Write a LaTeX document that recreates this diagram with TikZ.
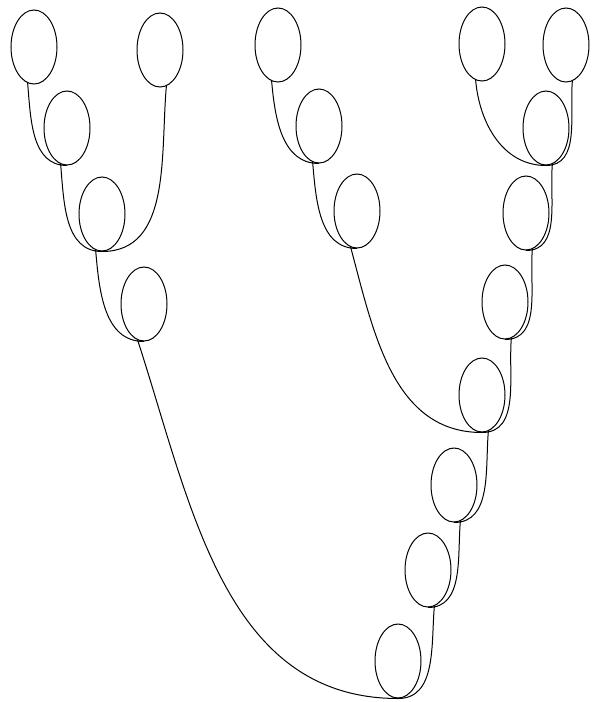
\documentclass[tikz,border=0pt]{standalone}
\usepackage{tikz}
\usetikzlibrary{shapes.geometric}

\begin{document}
\begin{tikzpicture}[x=1pt, y=-1pt, line width=1pt,
    blob/.style={draw, ellipse, inner sep=0pt, minimum width=46pt, minimum height=74pt},
    toleft/.style={out=-85, in=180},
    toright/.style={out=-95, in=0}]
        \useasboundingbox (0,0) rectangle (592,702);
        % left branch
        \node[blob] (a1) at (34,47) {};
        \node[blob] (a2) at (160,50) {};
        \node[blob] (a3) at (67,128) {};
        \node[blob] (a4) at (102,214) {};
        \node[blob] (a5) at (144,304) {};
        % middle branch
        \node[blob] (m1) at (278,45) {};
        \node[blob] (m2) at (319,126) {};
        \node[blob] (m3) at (357,211) {};
        % right branch
        \node[blob] (r1) at (482,44) {};
        \node[blob] (r2) at (566,45) {};
        \node[blob] (r3) at (546,128) {};
        \node[blob] (r4) at (526,213) {};
        \node[blob] (r5) at (505,302) {};
        \node[blob] (r6) at (482,395) {};
        \node[blob] (r7) at (454,485) {};
        \node[blob] (r8) at (428,570) {};
        \node[blob] (r9) at (398,661) {};
        % links, child bottom to parent bottom
        \draw (a1.-100) to[toleft] (a3.south);
        \draw (a3.-100) to[toleft] (a4.south);
        \draw (a2.-80) to[toright] (a4.south);
        \draw (a4.-100) to[toleft] (a5.south);
        \draw (a5.-100) to[toleft, out=-72] (r9.south);
        \draw (m1.-100) to[toleft] (m2.south);
        \draw (m2.-100) to[toleft] (m3.south);
        \draw (m3.-100) to[toleft, out=-75] (r6.south);
        \draw (r1.-100) to[toleft] (r3.south);
        \draw (r2.-80) to[toright] (r3.south);
        \draw (r3.-80) to[toright] (r4.south);
        \draw (r4.-80) to[toright] (r5.south);
        \draw (r5.-80) to[toright] (r6.south);
        \draw (r6.-80) to[toright] (r7.south);
        \draw (r7.-80) to[toright] (r8.south);
        \draw (r8.-80) to[toright] (r9.south);
\end{tikzpicture}
\end{document}
